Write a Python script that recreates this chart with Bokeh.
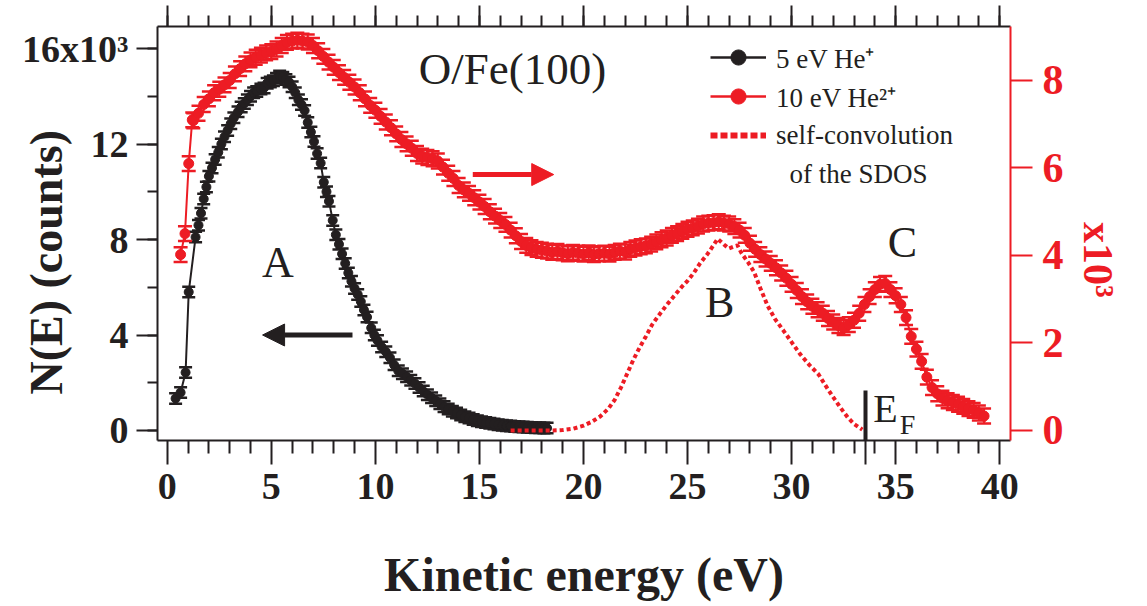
import numpy as np
from bokeh.plotting import figure
from bokeh.models import (Range1d, LinearAxis, SingleIntervalTicker, FixedTicker, Label, Arrow,
                          NormalHead, Legend, LegendItem, ColumnDataSource)
from bokeh.embed import file_html
from bokeh.resources import INLINE

BLACK = "#231F20"
RED = "#ED1C24"
SERIF = "Liberation Serif"
NBSP = "\u00a0"

# ---- 5 eV He+ spectrum (left axis, counts) ----
black_energy = [0.40, 0.64, 0.88, 1.03, 1.36, 1.50, 1.62, 1.75, 1.88, 2.00, 2.15, 2.30, 2.45,
                2.60, 2.75, 2.90, 3.05, 3.20, 3.40, 3.55, 3.70, 3.85, 4.00, 4.15, 4.30, 4.50,
                4.65, 4.80, 4.95, 5.10, 5.25, 5.40, 5.55, 5.70, 5.85, 6.00, 6.15, 6.30, 6.45,
                6.60, 6.75, 6.90, 7.05, 7.20, 7.37, 7.52, 7.65, 7.77, 7.95, 8.10, 8.25, 8.40,
                8.55, 8.70, 8.85, 9.00, 9.15, 9.30, 9.45, 9.60, 9.80, 9.95, 10.10, 10.30,
                10.50, 10.70, 10.90, 11.10, 11.30, 11.50, 11.70, 11.90, 12.10, 12.30, 12.50,
                12.70, 12.90, 13.10, 13.30, 13.50, 13.70, 13.90, 14.10, 14.30, 14.50, 14.70,
                14.90, 15.10, 15.30, 15.50, 15.70, 15.90, 16.10, 16.30, 16.50, 16.70, 16.90,
                17.10, 17.30, 17.50, 17.70, 17.90, 18.10, 18.25]
black_counts = [1340, 1590, 2430, 5800, 8100, 8600, 9100, 9700, 10200, 10650, 11000, 11350,
                11650, 12000, 12300, 12570, 12850, 13100, 13350, 13550, 13700, 13850, 14000,
                14150, 14200, 14300, 14350, 14550, 14600, 14650, 14750, 14850, 14800, 14700,
                14600, 14400, 14150, 13850, 13650, 13400, 12900, 12500, 12100, 11600, 11200,
                10400, 10000, 9600, 8800, 8200, 7800, 7400, 7000, 6600, 6250, 5950, 5700,
                5400, 5050, 4750, 4300, 4000, 3770, 3500, 3300, 3050, 2750, 2500, 2380, 2250,
                2100, 1970, 1800, 1650, 1500, 1370, 1250, 1120, 1000, 900, 810, 730, 650, 580,
                520, 460, 410, 370, 330, 300, 270, 240, 220, 200, 185, 170, 155, 145, 135,
                125, 118, 110, 105, 100]
black_err = 220

# ---- 10 eV He2+ spectrum (right axis, counts) ----
red_energy = [0.64, 0.85, 1.03, 1.20, 1.25, 1.50, 1.75, 2.00, 2.25, 2.50, 2.75, 3.00, 3.25,
              3.50, 3.75, 4.00, 4.25, 4.50, 4.75, 5.00, 5.25, 5.50, 5.75, 6.00, 6.25, 6.50,
              6.75, 7.00, 7.25, 7.50, 7.75, 8.00, 8.25, 8.50, 8.75, 9.00, 9.25, 9.50, 9.75,
              10.00, 10.25, 10.50, 10.75, 11.00, 11.25, 11.50, 11.75, 12.00, 12.25, 12.50,
              12.75, 13.00, 13.25, 13.50, 13.75, 14.00, 14.25, 14.50, 14.75, 15.00, 15.25,
              15.50, 15.75, 16.00, 16.25, 16.50, 16.75, 17.00, 17.25, 17.50, 17.75, 18.00,
              18.25, 18.50, 18.75, 19.00, 19.25, 19.50, 19.75, 20.00, 20.25, 20.50, 20.75,
              21.00, 21.25, 21.50, 21.75, 22.00, 22.25, 22.50, 22.75, 23.00, 23.25, 23.50,
              23.75, 24.00, 24.25, 24.50, 24.75, 25.00, 25.25, 25.50, 25.75, 26.00, 26.25,
              26.50, 26.75, 27.00, 27.25, 27.50, 27.75, 28.00, 28.25, 28.50, 28.75, 29.00,
              29.25, 29.50, 29.75, 30.00, 30.25, 30.50, 30.75, 31.00, 31.25, 31.50, 31.75,
              32.00, 32.25, 32.50, 32.75, 33.00, 33.25, 33.50, 33.75, 34.00, 34.25, 34.50,
              34.75, 35.00, 35.25, 35.50, 35.75, 36.00, 36.25, 36.50, 36.75, 37.00, 37.25,
              37.50, 37.75, 38.00, 38.25, 38.50, 38.75, 39.00, 39.25]
red_counts = [4020, 4500, 6100, 7100, 7080, 7250, 7450, 7580, 7720, 7800, 7900, 8000, 8150,
              8270, 8380, 8470, 8530, 8580, 8630, 8660, 8720, 8800, 8870, 8900, 8920, 8900,
              8880, 8800, 8680, 8550, 8420, 8300, 8180, 8070, 7960, 7850, 7720, 7580, 7430,
              7320, 7180, 7050, 6920, 6780, 6650, 6550, 6450, 6330, 6270, 6240, 6210, 6160,
              6020, 5880, 5760, 5600, 5500, 5420, 5320, 5220, 5120, 5000, 4900, 4800, 4710,
              4580, 4450, 4320, 4230, 4180, 4140, 4120, 4100, 4070, 4090, 4060, 4040, 4070,
              4050, 4030, 4060, 4020, 4040, 4050, 4030, 4070, 4100, 4080, 4140, 4170, 4200,
              4220, 4260, 4310, 4360, 4400, 4460, 4500, 4550, 4600, 4630, 4670, 4720, 4740,
              4750, 4770, 4740, 4720, 4660, 4580, 4460, 4280, 4140, 4020, 3920, 3820, 3720,
              3600, 3480, 3340, 3200, 3060, 2940, 2840, 2760, 2680, 2560, 2480, 2400, 2350,
              2420, 2520, 2680, 2880, 3060, 3220, 3340, 3360, 3220, 3080, 2880, 2580, 2150,
              1860, 1580, 1220, 980, 840, 740, 680, 640, 600, 550, 500, 460, 400, 330]
red_err = 170

# ---- self-convolution of the SDOS (right axis scale) ----
sdos_energy = [16.5, 17.0, 17.5, 18.0, 18.5, 19.0, 19.5, 20.0, 20.4, 20.8, 21.2, 21.5, 21.8,
               22.1, 22.4, 22.7, 23.0, 23.3, 23.6, 24.05, 24.4, 24.7, 25.0, 25.3, 25.6, 25.97,
               26.2, 26.45, 26.75, 26.98, 27.2, 27.4, 27.6, 27.9, 28.2, 28.5, 28.85, 29.2,
               29.6, 30.0, 30.4, 30.85, 31.3, 31.6, 32.0, 32.35, 32.7, 33.0, 33.4]
sdos_counts = [0, 0, 0, 0, 0, 10, 40, 110, 200, 320, 500, 700, 980, 1300, 1620, 1900, 2150,
               2420, 2620, 2900, 3100, 3270, 3420, 3600, 3820, 4040, 4200, 4380, 4250, 4160,
               4200, 4230, 4050, 3850, 3620, 3250, 2850, 2550, 2290, 2020, 1750, 1500, 1280,
               1050, 760, 520, 300, 150, 20]

x_major_ticks = [0, 5, 10, 15, 20, 25, 30, 35, 40]
x_minor_ticks = [v for v in range(0, 41) if v % 5]
left_ticks = [0, 4000, 8000, 12000, 16000]
left_tick_labels = ["0", "4", "8", "12", "16x10\u00b3"]
right_ticks = [0, 2000, 4000, 6000, 8000]
right_tick_labels = ["0", "2", "4", "6", "8"]
fermi_energy = 33.56

Y_LEFT = (-419, 16922)
p = figure(width=1147, height=606, output_backend="svg", toolbar_location=None,
           x_range=Range1d(-0.47, 40.52), y_range=Range1d(*Y_LEFT),
           min_border_left=157, min_border_right=137, min_border_top=26,
           min_border_bottom=166, x_axis_location=None, y_axis_location=None)
p.extra_y_ranges = {"right": Range1d(-229, 9234)}
p.grid.visible = False
p.outline_line_color = None
p.background_fill_color = "white"
p.border_fill_color = "white"


def style_axis(ax, color, tick_out, minor_out, width=2):
    ax.axis_line_color = color
    ax.axis_line_width = width
    ax.major_tick_line_color = color
    ax.minor_tick_line_color = color
    ax.major_tick_line_width = width
    ax.minor_tick_line_width = width
    ax.major_tick_out = tick_out
    ax.major_tick_in = 0
    ax.minor_tick_out = minor_out
    ax.minor_tick_in = 0
    ax.major_label_text_font = SERIF
    ax.major_label_text_font_style = "bold"
    ax.major_label_text_color = color
    ax.axis_label_text_font = SERIF
    ax.axis_label_text_font_style = "bold"
    ax.axis_label_text_color = color


# bottom axis: the Fermi level is carried as an extra, unlabelled major tick
xb = LinearAxis(ticker=FixedTicker(ticks=x_major_ticks + [fermi_energy],
                                   minor_ticks=x_minor_ticks))
style_axis(xb, BLACK, 24, 13)
xb.major_label_text_font_size = "38px"
xb.major_label_standoff = 9
xb.major_label_overrides = {**{v: str(v) for v in x_major_ticks}, fermi_energy: ""}
xb.axis_label = "Kinetic energy (eV)"
xb.axis_label_text_font_size = "48px"
xb.axis_label_standoff = 46
p.add_layout(xb, "below")

# Fermi-level bar inside the frame
ef_axis = LinearAxis(ticker=FixedTicker(ticks=[fermi_energy]), fixed_location=Y_LEFT[0])
ef_axis.axis_line_color = None
ef_axis.minor_tick_line_color = None
ef_axis.major_tick_line_color = BLACK
ef_axis.major_tick_line_width = 4
ef_axis.major_tick_in = 50
ef_axis.major_tick_out = 0
ef_axis.major_label_text_color = None
ef_axis.major_label_text_font_size = "1px"
p.add_layout(ef_axis, "below")

xt = LinearAxis(ticker=SingleIntervalTicker(interval=5, num_minor_ticks=5))
style_axis(xt, BLACK, 21, 11)
xt.major_label_text_color = None
xt.major_label_text_font_size = "1px"
xt.major_label_standoff = 0
p.add_layout(xt, "above")

yl = LinearAxis(ticker=SingleIntervalTicker(interval=4000, num_minor_ticks=2))
style_axis(yl, BLACK, 21, 10)
yl.major_label_text_font_size = "38px"
yl.major_label_standoff = 8
yl.major_label_overrides = {v: s for v, s in zip(left_ticks, left_tick_labels)}
yl.axis_label = "N(E) (counts)" + NBSP * 5
yl.axis_label_text_font_size = "46px"
yl.axis_label_standoff = -53
p.add_layout(yl, "left")

yr = LinearAxis(y_range_name="right", ticker=SingleIntervalTicker(interval=2000, num_minor_ticks=0))
style_axis(yr, RED, 22, 0)
yr.minor_tick_line_color = None
yr.major_label_text_font_size = "42px"
yr.major_label_standoff = 10
yr.major_label_overrides = {v: s for v, s in zip(right_ticks, right_tick_labels)}
yr.axis_label = NBSP * 5 + "x10\u00b3"
yr.axis_label_text_font_size = "42px"
yr.axis_label_standoff = 8
p.add_layout(yr, "right")

# ---- black series with error bars ----
bx = np.array(black_energy)
by = np.array(black_counts, dtype=float)
src_b = ColumnDataSource(dict(x=bx, y=by, lo=by - black_err, hi=by + black_err))
p.line("x", "y", source=src_b, line_color=BLACK, line_width=2)
p.segment(x0="x", y0="lo", x1="x", y1="hi", source=src_b, line_color=BLACK, line_width=2)
p.scatter("x", "lo", source=src_b, marker="dash", size=13, line_color=BLACK, line_width=2.5)
p.scatter("x", "hi", source=src_b, marker="dash", size=13, line_color=BLACK, line_width=2.5)
p.scatter("x", "y", source=src_b, marker="circle", size=9, fill_color=BLACK, line_color=BLACK)

# ---- self-convolution (dotted) ----
src_s = ColumnDataSource(dict(x=sdos_energy, y=sdos_counts))
p.line("x", "y", source=src_s, y_range_name="right", line_color=RED, line_width=4,
       line_dash="4 3")

# ---- red series with error bars ----
rx = np.array(red_energy)
ry = np.array(red_counts, dtype=float)
src_r = ColumnDataSource(dict(x=rx, y=ry, lo=ry - red_err, hi=ry + red_err))
p.line("x", "y", source=src_r, y_range_name="right", line_color=RED, line_width=2)
p.segment(x0="x", y0="lo", x1="x", y1="hi", source=src_r, y_range_name="right",
          line_color=RED, line_width=2)
p.scatter("x", "lo", source=src_r, y_range_name="right", marker="dash", size=14,
          line_color=RED, line_width=2.5)
p.scatter("x", "hi", source=src_r, y_range_name="right", marker="dash", size=14,
          line_color=RED, line_width=2.5)
p.scatter("x", "y", source=src_r, y_range_name="right", marker="circle", size=10,
          fill_color=RED, line_color=RED)

# ---- legend samples (hidden renderers, shown only as legend glyphs) ----
lg_bl = p.line("x", "y", source=src_b, line_color=BLACK, line_width=2.5, visible=False)
lg_bd = p.scatter("x", "y", source=src_b, marker="circle", fill_color=BLACK,
                  line_color=BLACK, visible=False)
lg_rl = p.line("x", "y", source=src_r, y_range_name="right", line_color=RED, line_width=2.5,
               visible=False)
lg_rd = p.scatter("x", "y", source=src_r, y_range_name="right", marker="circle",
                  fill_color=RED, line_color=RED, visible=False)
lg_dt = p.line("x", "y", source=src_s, y_range_name="right", line_color=RED, line_width=6,
               line_dash="7 3", visible=False)
lg_nl = p.line("x", "y", source=src_s, y_range_name="right", line_alpha=0, visible=False)
legend = Legend(items=[
    LegendItem(label="5 eV He\u207a", renderers=[lg_bl, lg_bd]),
    LegendItem(label="10 eV He\u00b2\u207a", renderers=[lg_rl, lg_rd]),
    LegendItem(label="self-convolution", renderers=[lg_dt]),
    LegendItem(label=NBSP * 2 + "of the SDOS", renderers=[lg_nl]),
], location=(553, 247), padding=0, margin=0, spacing=1, glyph_width=56, glyph_height=38,
    label_standoff=10, label_text_font=SERIF, label_text_font_size="27px",
    label_text_color=BLACK, border_line_color=None, background_fill_alpha=0)
p.add_layout(legend)

# ---- annotations inside the frame ----
def text(x, y, s, size, color=BLACK, y_range_name="default"):
    p.add_layout(Label(x=x, y=y, text=s, text_font=SERIF, text_font_size=size,
                       text_color=color, text_align="center", text_baseline="middle",
                       y_range_name=y_range_name))

text(16.59, 15162, "O/Fe(100)", "45px")
text(5.31, 7040, "A", "44px")
text(26.54, 2930, "B", "44px", y_range_name="right")
text(35.33, 4300, "C", "44px", y_range_name="right")
text(34.51, 921, "E", "40px")
text(35.57, 251, "F", "28px")

p.add_layout(Arrow(end=NormalHead(size=22, fill_color=BLACK, line_color=BLACK),
                   x_start=8.9, y_start=4000, x_end=4.58, y_end=4000,
                   line_color=BLACK, line_width=5))
p.add_layout(Arrow(end=NormalHead(size=22, fill_color=RED, line_color=RED),
                   x_start=14.68, y_start=5850, x_end=18.57, y_end=5850,
                   line_color=RED, line_width=5, y_range_name="right"))

open("out.html", "w").write(file_html(p, INLINE))
